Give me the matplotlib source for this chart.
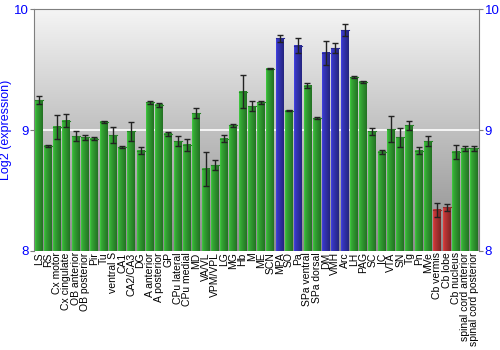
import numpy as np
import matplotlib.pyplot as plt
from matplotlib.colors import to_rgb

plt.rcParams['font.family'] = ['Liberation Sans', 'DejaVu Sans']

regions = ['LS', 'RS', 'Cx motor', 'Cx cingulate', 'OB anterior', 'OB posterior',
           'Pir', 'Tu', 'ventral S', 'CA1', 'CA2/CA3', 'DG', 'A anterior',
           'A posterior', 'GP', 'CPu lateral', 'CPu medial', 'MD', 'VA/VL',
           'VPM/VPL', 'LG', 'MG', 'Hb', 'M', 'ME', 'SCN', 'MPA', 'SO', 'Pa',
           'SPa ventral', 'SPa dorsal', 'DM', 'VMH', 'Arc', 'LH', 'PAG', 'SC',
           'IC', 'VTA', 'SN', 'Tg', 'Pn', 'MVe', 'Cb vermis', 'Cb lobe',
           'Cb nucleus', 'spinal cord anterior', 'spinal cord posterior']
expr = [9.25, 8.87, 9.03, 9.08, 8.95, 8.94, 8.93, 9.07, 8.96, 8.86, 8.99, 8.83,
        9.23, 9.21, 8.97, 8.91, 8.88, 9.14, 8.68, 8.71, 8.93, 9.04, 9.32, 9.20,
        9.23, 9.51, 9.76, 9.16, 9.70, 9.37, 9.10, 9.64, 9.68, 9.83, 9.44, 9.40,
        8.99, 8.82, 9.01, 8.94, 9.04, 8.83, 8.91, 8.34, 8.36, 8.82, 8.85, 8.85]
err = [0.03, 0.01, 0.10, 0.055, 0.04, 0.02, 0.01, 0.01, 0.066, 0.01, 0.08, 0.03,
       0.01, 0.015, 0.015, 0.04, 0.05, 0.04, 0.14, 0.04, 0.03, 0.015, 0.14, 0.04,
       0.01, 0.005, 0.03, 0.005, 0.06, 0.02, 0.01, 0.10, 0.04, 0.05, 0.01, 0.01,
       0.03, 0.02, 0.11, 0.075, 0.04, 0.03, 0.04, 0.06, 0.03, 0.06, 0.02, 0.02]
blue_regions = ['MPA', 'Pa', 'DM', 'VMH', 'Arc']
red_regions = ['Cb vermis', 'Cb lobe']

ymin, ymax = 8, 10
width = 0.86

fig = plt.figure(figsize=(5, 3.5), dpi=100)
ax = fig.add_axes([0.068, 0.283, 0.89, 0.69])
x = np.arange(len(regions))
xlim = (-0.5, len(regions) - 0.5)

# vertical grey gradient behind the bars, light at the top
bg = np.linspace(0.96, 0.55, 256).reshape(-1, 1)
ax.imshow(np.dstack([bg, bg, bg]), extent=[xlim[0], xlim[1], ymin, ymax],
          aspect='auto', zorder=0, origin='upper', interpolation='bilinear')
ax.axhline(9, color='white', lw=1.2, zorder=1)

# shaded bars: lighter on the left edge, darker on the right
shade = np.concatenate([np.linspace(1.25, 1.0, 4), np.linspace(1.0, 0.7, 12)])
for xi, v, name in zip(x, expr, regions):
    if name in blue_regions:
        base = np.array(to_rgb('#3535b8'))
    elif name in red_regions:
        base = np.array(to_rgb('#b83535'))
    else:
        base = np.array(to_rgb('#33a333'))
    grad = np.clip(base[None, None, :] * shade[None, :, None], 0, 1)
    ax.imshow(grad, extent=[xi - width / 2, xi + width / 2, ymin, v],
              aspect='auto', zorder=2, interpolation='bilinear')
    ax.plot([xi - width / 2, xi + width / 2], [v, v], color=base * 0.8, lw=0.8, zorder=3)

ax.errorbar(x, expr, yerr=err, fmt='none', ecolor='#222222', elinewidth=1,
            capsize=2, capthick=1, zorder=4)
ax.set_xlim(*xlim)
ax.set_ylim(ymin, ymax)

ax.set_xticks(x)
ax.set_xticklabels(regions, rotation=90, fontsize=7.5)
ax.tick_params(axis='x', length=0, pad=1)
ax.set_yticks([8, 9, 10])
ax.tick_params(axis='y', colors='#7f7f7f', labelcolor='blue', labelsize=9.5,
               length=3, pad=1, left=True, right=True, labelleft=True, labelright=True)
ax.set_ylabel('Log2 (expression)', color='blue', fontsize=9, labelpad=1)
for side in ['left', 'right', 'top']:
    ax.spines[side].set_color('#7f7f7f')
ax.spines['bottom'].set_visible(False)

fig.savefig('out.png', dpi=100)
